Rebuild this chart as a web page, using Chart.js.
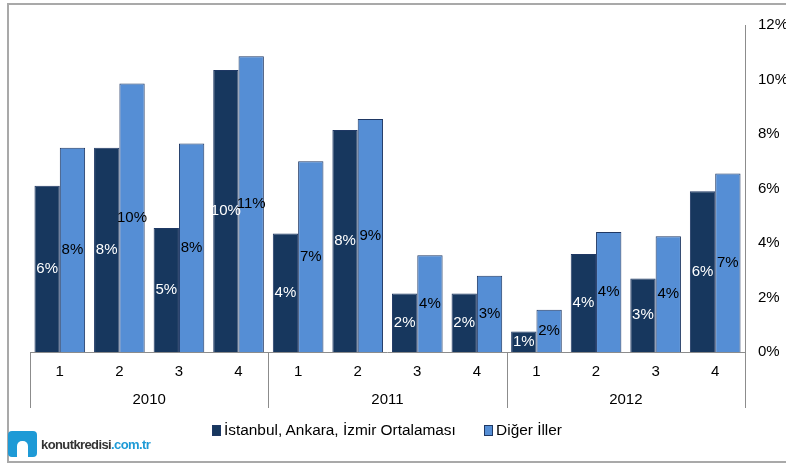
<!DOCTYPE html>
<html>
<head>
<meta charset="utf-8">
<script src="https://cdn.jsdelivr.net/npm/chart.js@4.4.1/dist/chart.umd.min.js"></script>
<style>
	html, body { margin: 0; padding: 0; background: #fff; }
	body { width: 786px; height: 464px; position: relative; overflow: hidden; font-family: "Liberation Sans", Arial, sans-serif; }
	.frame { position: absolute; left: 7px; top: 3px; width: 800px; height: 460px; border: 2px solid #a9a9a9; box-sizing: border-box; }
	#wrap { position: absolute; left: 0; top: 0; width: 786px; height: 464px; }
	.legend { position: absolute; top: 421px; left: 212px; font-size: 15.4px; color: #000; white-space: nowrap; }
	.legend span.box { display: inline-block; width: 9px; height: 11px; margin-right: 3px; vertical-align: -1px; border: 1px solid #1f3864; box-sizing: border-box; }
	.legend .item { margin-right: 24px; }
	.logo { position: absolute; left: 8px; top: 431px; font-size: 13px; white-space: nowrap; }
	.logo .icon { display: inline-block; width: 29px; height: 26px; background: #1e9ad6; border-radius: 4px; vertical-align: -8px; margin-right: 4px; position: relative; }
	.logo .icon:after { content: ""; position: absolute; left: 9px; top: 10px; width: 11px; height: 16px; background: #fff; border-radius: 5px 5px 0 0; }
	.logo .k { color: #333; font-weight: bold; letter-spacing: -0.6px; }
	.logo .c { color: #1e9ad6; font-weight: bold; letter-spacing: -0.6px; }
</style>
</head>
<body>
<div class="frame"></div>
<div id="wrap"><canvas id="chart"></canvas></div>
<div class="legend">
	<span class="item"><span class="box" style="background:#17375e"></span>İstanbul, Ankara, İzmir Ortalaması</span>
	<span class="item"><span class="box" style="background:#558ed5"></span>Diğer İller</span>
</div>
<div class="logo"><span class="icon"></span><span class="k">konutkredisi</span><span class="c">.com.tr</span></div>
<script>
	var quarters = ['1', '2', '3', '4', '1', '2', '3', '4', '1', '2', '3', '4'];
	var years = ['2010', '2011', '2012'];
	var buyukSehirler = [6.1, 7.5, 4.55, 10.35, 4.35, 8.15, 2.15, 2.15, 0.75, 3.6, 2.7, 5.9];
	var digerIller = [7.5, 9.85, 7.65, 10.85, 7.0, 8.55, 3.55, 2.8, 1.55, 4.4, 4.25, 6.55];
	var yTicks = [0, 2, 4, 6, 8, 10, 12];

	var fontFamily = '"Liberation Sans", Arial, sans-serif';
	var axisColor = '#8c8c8c';

	// value labels in the middle of each bar
	var barLabels = {
		id: 'barLabels',
		afterDatasetsDraw: function(chart) {
			var ctx = chart.ctx;
			ctx.save();
			ctx.font = '15px ' + fontFamily;
			ctx.textAlign = 'center';
			ctx.textBaseline = 'middle';
			chart.data.datasets.forEach(function(ds, i) {
				var meta = chart.getDatasetMeta(i);
				ctx.fillStyle = i === 0 ? '#ffffff' : '#000000';
				meta.data.forEach(function(bar, j) {
					var y = (bar.y + bar.base) / 2;
					ctx.fillText(Math.round(ds.data[j]) + '%', bar.x, y);
				});
			});
			ctx.restore();
		}
	};

	// year groups under the quarter labels
	var yearAxis = {
		id: 'yearAxis',
		afterDraw: function(chart) {
			var ctx = chart.ctx;
			var x = chart.scales.x;
			var area = chart.chartArea;
			var per = quarters.length / years.length;
			var step = (area.right - area.left) / quarters.length;
			var bottom = area.bottom + 56;
			ctx.save();
			ctx.strokeStyle = axisColor;
			ctx.lineWidth = 1;
			ctx.beginPath();
			ctx.moveTo(area.left, Math.round(area.bottom) + 0.5);
			ctx.lineTo(area.right, Math.round(area.bottom) + 0.5);
			for (var g = 0; g <= years.length; g++) {
				var px = Math.round(x.getPixelForValue(g * per) - step / 2) + 0.5;
				ctx.moveTo(px, area.bottom);
				ctx.lineTo(px, bottom);
			}
			ctx.stroke();
			ctx.font = '15px ' + fontFamily;
			ctx.fillStyle = '#000';
			ctx.textAlign = 'center';
			ctx.textBaseline = 'middle';
			years.forEach(function(y, g) {
				var cx = (x.getPixelForValue(g * per) + x.getPixelForValue(g * per + per - 1)) / 2;
				ctx.fillText(y, cx, area.bottom + 48);
			});
			ctx.restore();
		}
	};

	new Chart(document.getElementById('chart'), {
		type: 'bar',
		data: {
			labels: quarters,
			datasets: [{
				label: 'İstanbul, Ankara, İzmir Ortalaması',
				data: buyukSehirler,
				backgroundColor: '#17375e',
				borderColor: '#1f3864',
				borderWidth: 1
			}, {
				label: 'Diğer İller',
				data: digerIller,
				backgroundColor: '#558ed5',
				borderColor: '#1f3864',
				borderWidth: 1
			}]
		},
		options: {
			responsive: true,
			maintainAspectRatio: false,
			animation: false,
			layout: { padding: { left: 30, top: 25, right: 0, bottom: 0 } },
			datasets: { bar: { categoryPercentage: 0.85, barPercentage: 1.0 } },
			plugins: {
				legend: { display: false },
				tooltip: { enabled: false }
			},
			scales: {
				x: {
					grid: { display: false, drawTicks: false },
					border: { display: false },
					ticks: { color: '#000', font: { family: fontFamily, size: 15 }, padding: 11, maxRotation: 0 },
					afterFit: function(scale) { scale.height = 112; }
				},
				y: {
					position: 'right',
					min: 0,
					max: 12,
					afterBuildTicks: function(scale) {
						scale.ticks = yTicks.map(function(v) { return { value: v }; });
					},
					grid: { display: false, drawTicks: false },
					border: { display: true, color: axisColor, width: 1 },
					ticks: {
						color: '#000',
						font: { family: fontFamily, size: 15 },
						padding: 13,
						callback: function(v) { return v + '%'; }
					},
					afterFit: function(scale) { scale.width = 41; }
				}
			}
		},
		plugins: [barLabels, yearAxis]
	});
</script>
</body>
</html>
